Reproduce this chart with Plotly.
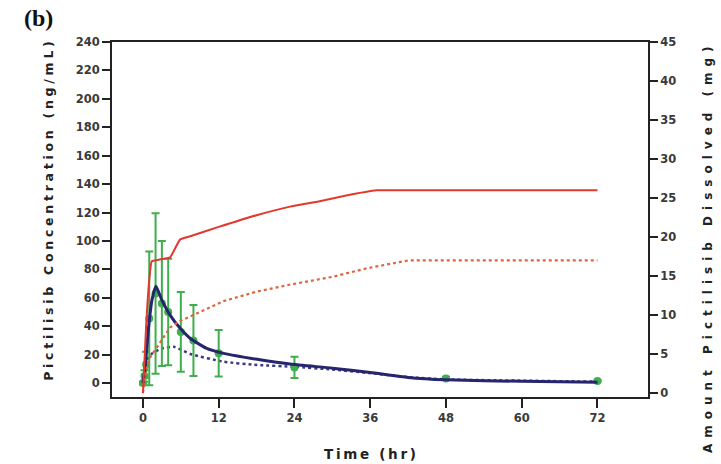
import plotly.graph_objects as go

# ---- data ----
t_red_solid = [0, 0.5, 1.0, 1.4, 2.5, 4.3, 5.9, 7.5, 12, 18, 23.3, 28, 32, 37, 40, 72]
red_solid_mg = [0, 8.5, 14.5, 16.9, 17.1, 17.4, 19.7, 20.1, 21.3, 22.8, 23.9, 24.6, 25.3, 26.0, 26.0, 26.0]

t_red_dot = [0, 0.5, 1, 2, 3, 4.3, 6, 8, 12.8, 18, 23.3, 30, 35.5, 42, 72]
red_dot_mg = [0, 2.8, 4.4, 5.6, 6.8, 8.4, 9.3, 10.0, 11.8, 13.0, 13.9, 14.9, 16.0, 17.0, 17.0]

t_blue_solid = [0, 0.36, 0.9, 1.43, 2.06, 3.0, 4.3, 5.9, 7.5, 10.1, 12.8, 18.1, 23.3, 30, 36, 42, 48, 60, 72]
blue_solid = [0, 11.5, 39.6, 58.4, 68.2, 58.4, 47.8, 38.5, 31.4, 24.4, 20.9, 16.7, 13.4, 10.5, 7.5, 4.0, 2.3, 1.2, 0.5]

t_blue_dot = [0, 0.6, 1.5, 3.0, 4.9, 7.5, 12.8, 18.1, 24, 30, 36, 42, 48, 72]
blue_dot = [0, 16, 21, 24.4, 25.5, 20.5, 15, 12.7, 11.5, 9.5, 7, 4.2, 2.6, 1.0]

t_obs = [0, 0.25, 0.5, 1, 2, 3, 4, 6, 8, 12, 24, 48, 72]
obs_mean = [0, 5, 13, 45.5, 63, 56, 50, 36, 30, 21, 11, 3.3, 1.4]
obs_sd = [1, 4, 9, 47, 56.5, 44, 37.5, 28, 25, 16.4, 7.5, 1.2, 0.5]

x_ticks = [0, 12, 24, 36, 48, 60, 72]
y_left_ticks = list(range(0, 241, 20))
y_right_ticks = list(range(0, 46, 5))

left_title = "Pictilisib Concentration (ng/mL)"
right_title = "Amount Pictilisib Dissolved (mg)"
x_title = "Time (hr)"
panel_label = "(b)"


def spaced(s, sep="\u2009"):
    return sep.join(list(s))


RED = "#e2392f"
RED_DOT = "#e0653f"
NAVY = "#26256e"
BLUE_DOT = "#3b3b85"
GREEN = "#3fae4d"

fig = go.Figure()

fig.add_trace(go.Scatter(x=t_red_dot, y=red_dot_mg, yaxis="y2", mode="lines",
                         line=dict(color=RED_DOT, width=2.2, dash="dot"), showlegend=False))
fig.add_trace(go.Scatter(x=t_red_solid, y=red_solid_mg, yaxis="y2", mode="lines",
                         line=dict(color=RED, width=2, shape="spline", smoothing=0.4), showlegend=False))
fig.add_trace(go.Scatter(x=t_blue_dot, y=blue_dot, mode="lines",
                         line=dict(color=BLUE_DOT, width=2.5, dash="dot", shape="spline", smoothing=0.5),
                         showlegend=False))
fig.add_trace(go.Scatter(x=t_obs, y=obs_mean, mode="markers",
                         marker=dict(color=GREEN, size=8),
                         error_y=dict(type="data", array=obs_sd, visible=True, color=GREEN,
                                      thickness=2, width=4),
                         showlegend=False))
fig.add_trace(go.Scatter(x=t_blue_solid, y=blue_solid, mode="lines",
                         line=dict(color=NAVY, width=3, shape="spline", smoothing=0.5), showlegend=False))

tickfont = dict(family="DejaVu Sans", size=11.5, color="#3a3a3a", weight="bold")

fig.update_layout(
    width=721, height=464,
    margin=dict(l=112, r=73, t=42, b=67),
    paper_bgcolor="white", plot_bgcolor="white",
    xaxis=dict(range=[-4.9, 80], tickvals=x_ticks, ticks="outside", ticklen=9, tickwidth=2,
               tickcolor="#222", showline=True, linecolor="#222", linewidth=2, mirror=True,
               showgrid=False, zeroline=False, tickfont=tickfont),
    yaxis=dict(range=[-9.8, 240], tickvals=y_left_ticks, ticks="outside", ticklen=8, tickwidth=2,
               tickcolor="#222", showline=True, linecolor="#222", linewidth=2,
               showgrid=False, zeroline=False, tickfont=tickfont),
    yaxis2=dict(range=[-0.5, 45], tickvals=y_right_ticks, ticks="outside", ticklen=8, tickwidth=2,
                tickcolor="#222", showline=True, linecolor="#222", linewidth=2,
                overlaying="y", side="right", showgrid=False, zeroline=False, tickfont=tickfont),
)

titlefont = dict(family="DejaVu Sans", size=12.5, color="#222222", weight="bold")
fig.add_annotation(text=spaced(left_title, "\u2009\u200a"), xref="paper", yref="paper", x=-0.119, y=0.525,
                   xanchor="center", yanchor="middle",
                   textangle=-90, showarrow=False, font=titlefont)
fig.add_annotation(text=spaced(right_title, "\u2002"), xref="paper", yref="paper", x=1.112, y=0.414,
                   xanchor="center", yanchor="middle",
                   textangle=-90, showarrow=False, font=dict(titlefont, size=12))
fig.add_annotation(text=spaced(x_title), xref="paper", yref="paper", x=0.481, y=-0.161,
                   xanchor="center", yanchor="middle",
                   showarrow=False, font=dict(titlefont, size=13.5))
fig.add_annotation(text=panel_label, xref="paper", yref="paper", x=-0.138, y=1.068,
                   xanchor="center", yanchor="middle",
                   showarrow=False, font=dict(family="Liberation Serif", size=24, color="#111", weight="bold"))

fig.write_html("out.html", config={"displayModeBar": False},
               post_script="document.body.style.margin='0';document.body.style.overflow='hidden';")
